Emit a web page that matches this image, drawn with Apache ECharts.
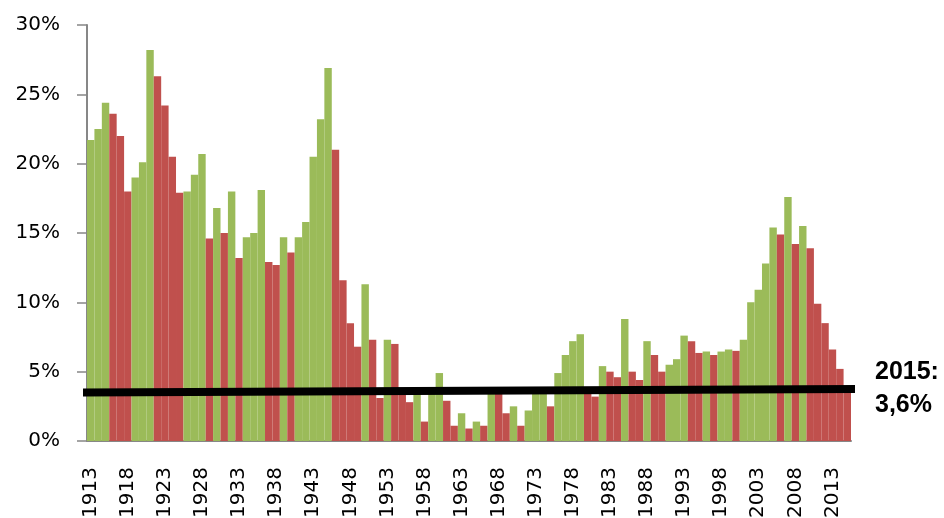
<!DOCTYPE html>
<html>
<head>
<meta charset="utf-8">
<script src="https://cdn.jsdelivr.net/npm/echarts@6/dist/echarts.min.js"></script>
<style>
  html, body { margin: 0; padding: 0; background: #fff; }
  #chart { width: 944px; height: 518px; }
</style>
</head>
<body>
<div id="chart"></div>
<script>
// years 1913..2015
var years = [];
for (var y = 1913; y <= 2015; y++) years.push(String(y));

var rates = [
  21.7, 22.5, 24.4, 23.6, 22.0, 18.0, 19.0, 20.1, 28.2, 26.3,
  24.2, 20.5, 17.9, 18.0, 19.2, 20.7, 14.6, 16.8, 15.0, 18.0,
  13.2, 14.7, 15.0, 18.1, 12.9, 12.7, 14.7, 13.6, 14.7, 15.8,
  20.5, 23.2, 26.9, 21.0, 11.6, 8.5, 6.8, 11.3, 7.3, 3.1,
  7.3, 7.0, 3.6, 2.8, 3.6, 1.4, 3.5, 4.9, 2.9, 1.1,
  2.0, 0.9, 1.4, 1.1, 3.6, 3.5, 2.0, 2.5, 1.1, 2.2,
  3.5, 3.7, 2.5, 4.9, 6.2, 7.2, 7.7, 3.5, 3.2, 5.4,
  5.0, 4.6, 8.8, 5.0, 4.4, 7.2, 6.2, 5.0, 5.5, 5.9,
  7.6, 7.2, 6.35, 6.45, 6.2, 6.45, 6.6, 6.5, 7.3, 10.0,
  10.9, 12.8, 15.4, 14.9, 17.6, 14.2, 15.5, 13.9, 9.9, 8.5,
  6.6, 5.2, 3.6
];

// hand drawn level line, ends given in years
var levelYears = [1911.9, 2016.5];
var levelValues = [3.49, 3.75];
var levelLabel = "2015:\n3,6%";

var yTicks = [0, 5, 10, 15, 20, 25, 30];

var GREEN = "#9bbb59";
var RED = "#c0504d";
var AXIS = "#878787";

var barData = rates.map(function (v, i) {
  var up = i === 0 || v >= rates[i - 1];
  return { value: v, itemStyle: { color: up ? GREEN : RED } };
});

var myChart = echarts.init(document.getElementById("chart"));

var option = {
  animation: false,
  grid: {
    left: 87, right: 93, top: 25, bottom: 77,
    containLabel: false,
    outerBoundsMode: "none",
  },
  xAxis: [
    {
      type: "category",
      data: years,
      boundaryGap: true,
      axisLine: { lineStyle: { color: AXIS, width: 2 } },
      axisTick: { interval: 0, length: 7, lineStyle: { color: AXIS, width: 1.5 } },
      axisLabel: {
        interval: 4,
        rotate: 90,
        hideOverlap: false,
        margin: 26,
        color: "#000",
        fontFamily: "DejaVu Sans",
        fontSize: 20,
      },
    },
    {
      type: "value",
      min: 1912.5,
      max: 2015.5,
      show: false,
    },
  ],
  yAxis: {
    type: "value",
    min: 0,
    max: yTicks[yTicks.length - 1],
    interval: 5,
    axisLine: { show: true, lineStyle: { color: AXIS, width: 2 } },
    axisTick: { show: true, length: 10, lineStyle: { color: AXIS, width: 1.5 } },
    splitLine: { show: false },
    axisLabel: {
      formatter: "{value}%",
      margin: 27,
      color: "#000",
      fontFamily: "DejaVu Sans",
      fontSize: 20,
    },
  },
  series: [
    {
      type: "bar",
      data: barData,
      barCategoryGap: "0%",
      barGap: "0%",
    },
    {
      type: "line",
      xAxisIndex: 1,
      data: levelYears.map(function (x, i) { return [x, levelValues[i]]; }),
      symbol: "none",
      clip: false,
      z: 10,
      lineStyle: { color: "#000", width: 8 },
      endLabel: {
        show: true,
        formatter: levelLabel,
        distance: 20,
        color: "#000",
        fontFamily: "Liberation Sans",
        fontWeight: "bold",
        fontSize: 25,
        lineHeight: 33,
        align: "left",
      },
    },
  ],
};

myChart.setOption(option);
</script>
</body>
</html>
